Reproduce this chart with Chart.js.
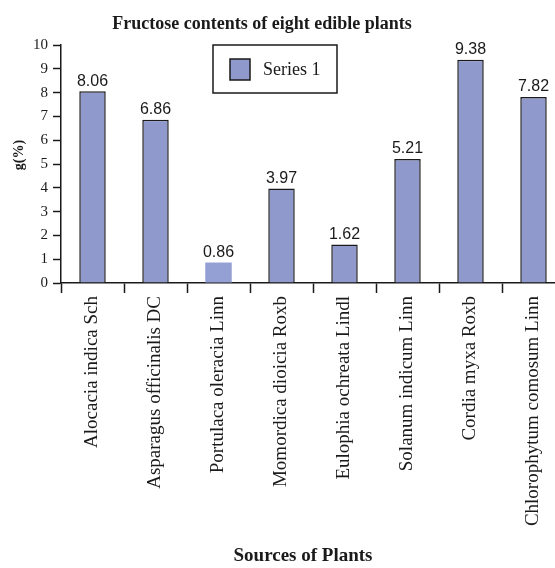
<!DOCTYPE html>
<html>
<head>
<meta charset="utf-8">
<script src="https://cdn.jsdelivr.net/npm/chart.js@4/dist/chart.umd.min.js"></script>
<style>
  html, body { margin: 0; padding: 0; background: #fff; overflow: hidden; }
  #wrap { width: 555px; height: 568px; overflow: hidden; position: relative; }
  canvas { display: block; }
</style>
</head>
<body>
<div id="wrap"><canvas id="c" width="575" height="568"></canvas></div>
<script>
// Plant sources and their fructose content, g(%)
const plants = [
  "Alocacia indica Sch",
  "Asparagus officinalis DC",
  "Portulaca oleracia Linn",
  "Momordica dioicia Roxb",
  "Eulophia ochreata Lindl",
  "Solanum indicum Linn",
  "Cordia myxa Roxb",
  "Chlorophytum comosum Linn"
];
const fructose = [8.06, 6.86, 0.86, 3.97, 1.62, 5.21, 9.38, 7.82];
const yTicks = [0, 1, 2, 3, 4, 5, 6, 7, 8, 9, 10];
const seriesName = "Series 1";

const chartTitle = "Fructose contents of eight edible plants";
const xTitle = "Sources of Plants";
const yTitle = "g(%)";

const SERIF = "'Liberation Serif', 'DejaVu Serif', serif";
const SANS = "'Liberation Sans', Arial, sans-serif";
const INK = "#1a1a1a";
const BAR = "#8f99cc";
const BAR_HI = "#949fd4";

// Third bar is shown highlighted: lighter fill, no outline
const fills = fructose.map((v, i) => i === 2 ? BAR_HI : BAR);
const borders = fructose.map((v, i) => i === 2 ? 0 : 1.5);

const decorations = {
  id: "decorations",
  afterDraw(chart) {
    const ctx = chart.ctx;
    ctx.save();
    ctx.fillStyle = INK;

    // chart title
    ctx.font = "bold 18px " + SERIF;
    ctx.textAlign = "center";
    ctx.textBaseline = "middle";
    ctx.fillText(chartTitle, 262, 24);

    // x axis title
    ctx.font = "bold 19px " + SERIF;
    ctx.fillText(xTitle, 303, 556);

    // y axis title
    ctx.save();
    ctx.translate(19, 155);
    ctx.rotate(-Math.PI / 2);
    ctx.font = "bold 14px " + SERIF;
    ctx.fillText(yTitle, 0, 0);
    ctx.restore();

    // value labels above bars
    const meta = chart.getDatasetMeta(0);
    ctx.font = "16px " + SANS;
    ctx.textBaseline = "bottom";
    meta.data.forEach((bar, i) => {
      ctx.fillText(fructose[i].toFixed(2), bar.x, bar.y - 2);
    });

    // legend box
    const lx = 213, ly = 45, lw = 124, lh = 48;
    ctx.lineWidth = 1.5;
    ctx.strokeStyle = INK;
    ctx.strokeRect(lx, ly, lw, lh);
    ctx.fillStyle = BAR;
    ctx.fillRect(230, 59, 20, 21);
    ctx.strokeRect(230, 59, 20, 21);
    ctx.fillStyle = INK;
    ctx.font = "18px " + SERIF;
    ctx.textAlign = "left";
    ctx.textBaseline = "middle";
    ctx.fillText(chart.data.datasets[0].label, 263, 70);
    ctx.restore();
  }
};

new Chart(document.getElementById("c"), {
  type: "bar",
  data: {
    labels: plants,
    datasets: [{
      label: seriesName,
      data: fructose,
      backgroundColor: fills,
      borderColor: INK,
      borderWidth: borders,
      categoryPercentage: 1.0,
      barPercentage: 0.42
    }]
  },
  options: {
    responsive: false,
    devicePixelRatio: 1,
    animation: false,
    layout: { padding: { top: 45, right: 10, left: 0, bottom: 0 } },
    plugins: {
      legend: { display: false },
      title: { display: false },
      tooltip: { enabled: false }
    },
    scales: {
      x: {
        grid: {
          offset: true,
          drawOnChartArea: false,
          drawTicks: true,
          tickLength: 10,
          tickWidth: 1.5,
          tickColor: INK
        },
        border: { display: true, color: INK, width: 1.5 },
        ticks: {
          minRotation: 90,
          maxRotation: 90,
          autoSkip: false,
          padding: 3,
          color: INK,
          font: { family: SERIF, size: 19 }
        },
        afterFit(scale) { scale.height = 285; }
      },
      y: {
        min: 0,
        max: 10,
        afterBuildTicks(scale) { scale.ticks = yTicks.map(v => ({ value: v })); },
        grid: {
          drawOnChartArea: false,
          drawTicks: true,
          tickLength: 8,
          tickWidth: 1.5,
          tickColor: INK
        },
        border: { display: true, color: INK, width: 1.5 },
        ticks: {
          padding: 5,
          color: INK,
          font: { family: SERIF, size: 15 }
        },
        afterFit(scale) { scale.width = 61; }
      }
    }
  },
  plugins: [decorations]
});
</script>
</body>
</html>
